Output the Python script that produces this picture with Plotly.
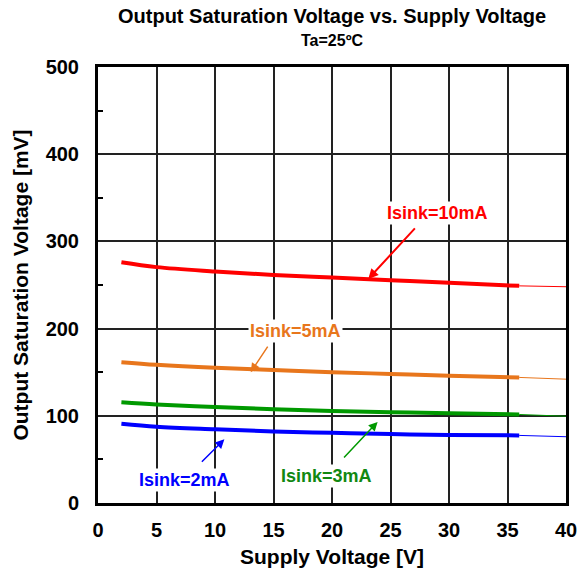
import plotly.graph_objects as go

# Data
supply_v = [2, 5, 10, 15, 20, 25, 30, 36]
ext_v = [36, 40]
isink_10mA = [276, 270.5, 265.5, 261.5, 258.5, 255.5, 252.5, 249]
isink_5mA = [161.5, 158.5, 155, 152.5, 150, 148, 146, 144]
isink_3mA = [115.5, 113, 110, 107.5, 105.5, 104, 103, 101.5]
isink_2mA = [91, 87.5, 84.5, 82, 80.5, 79, 78, 77.5]
ext_10mA = [249, 248]
ext_5mA = [144, 142]
ext_3mA = [101.5, 99.5]
ext_2mA = [77.5, 76]

series = [
    ("Isink=10mA", isink_10mA, ext_10mA, "#ff0000"),
    ("Isink=5mA", isink_5mA, ext_5mA, "#e8761c"),
    ("Isink=3mA", isink_3mA, ext_3mA, "#009900"),
    ("Isink=2mA", isink_2mA, ext_2mA, "#0000ff"),
]

FONT = "Liberation Sans, Arial, sans-serif"

fig = go.Figure()
for name, ys, ext, col in series:
    fig.add_trace(go.Scatter(x=supply_v, y=ys, mode="lines", line=dict(color=col, width=4, shape="spline"),
                             showlegend=False, name=name))
    fig.add_trace(go.Scatter(x=ext_v, y=ext, mode="lines", line=dict(color=col, width=1),
                             showlegend=False, name=name))

anns = [
    dict(x=23.1, y=257, ax=48, ay=-52, text="", showarrow=True, arrowhead=2, arrowsize=1,
         arrowwidth=2, arrowcolor="#ff0000"),
    dict(x=13.05, y=150, ax=18, ay=-27, text="", showarrow=True, arrowhead=2, arrowsize=1.2,
         arrowwidth=1.5, arrowcolor="#e8761c"),
    dict(x=10.8, y=73, ax=-24, ay=24, text="", showarrow=True, arrowhead=2, arrowsize=1.2,
         arrowwidth=1.5, arrowcolor="#0000ff"),
    dict(x=23.9, y=93, ax=-35, ay=37, text="", showarrow=True, arrowhead=2, arrowsize=1.2,
         arrowwidth=1.5, arrowcolor="#009900"),
    dict(x=29.0, y=333, text="<b>Isink=10mA</b>", showarrow=False, font=dict(family=FONT, size=18, color="#ff0000"),
         bgcolor="white"),
    dict(x=16.9, y=197, text="<b>Isink=5mA</b>", showarrow=False, font=dict(family=FONT, size=18, color="#e8761c"),
         bgcolor="white"),
    dict(x=7.38, y=26, text="<b>Isink=2mA</b>", showarrow=False, font=dict(family=FONT, size=18, color="#0000ff"),
         bgcolor="white"),
    dict(x=19.5, y=31, text="<b>Isink=3mA</b>", showarrow=False, font=dict(family=FONT, size=18, color="#118811"),
         bgcolor="white"),
    dict(x=0.5, y=1, xref="paper", yref="paper", yanchor="bottom", yshift=38, showarrow=False,
         text="<b>Output Saturation Voltage vs. Supply Voltage</b>", font=dict(family=FONT, size=20, color="black")),
    dict(x=0.5, y=1, xref="paper", yref="paper", yanchor="bottom", yshift=16, showarrow=False,
         text="<b>Ta=25ºC</b>", font=dict(family=FONT, size=16, color="black")),
]

fig.update_layout(
    width=585, height=575,
    margin=dict(l=98, r=19, t=67, b=72),
    paper_bgcolor="white", plot_bgcolor="white",
    annotations=anns,
    font=dict(family=FONT, color="black"),
)
fig.update_xaxes(
    range=[0, 40], dtick=5, tick0=0, showgrid=True, gridcolor="#222222", gridwidth=1.5,
    showline=True, linecolor="black", linewidth=3, mirror=True, ticks="", zeroline=False,
    tickfont=dict(family=FONT, size=20, color="black"), tickprefix="<b>", ticksuffix="</b>",
    ticklabelstandoff=7, automargin=False,
    title=dict(text="<b>Supply Voltage [V]</b>", font=dict(family=FONT, size=21, color="black"), standoff=10),
)
fig.update_yaxes(
    range=[0, 500], dtick=100, tick0=0, showgrid=True, gridcolor="#222222", gridwidth=1.5,
    showline=True, linecolor="black", linewidth=3, mirror=True, ticks="", zeroline=False,
    tickfont=dict(family=FONT, size=20, color="black"), tickprefix="<b>", ticksuffix="</b>",
    ticklabelstandoff=12, automargin=False,
    minor=dict(dtick=50, ticks="inside", ticklen=5, tickcolor="black", tickwidth=1.5, showgrid=False),
    title=dict(text="<b>Output Saturation Voltage [mV]</b>", font=dict(family=FONT, size=21, color="black"), standoff=12),
)

fig.write_html("out.html")
